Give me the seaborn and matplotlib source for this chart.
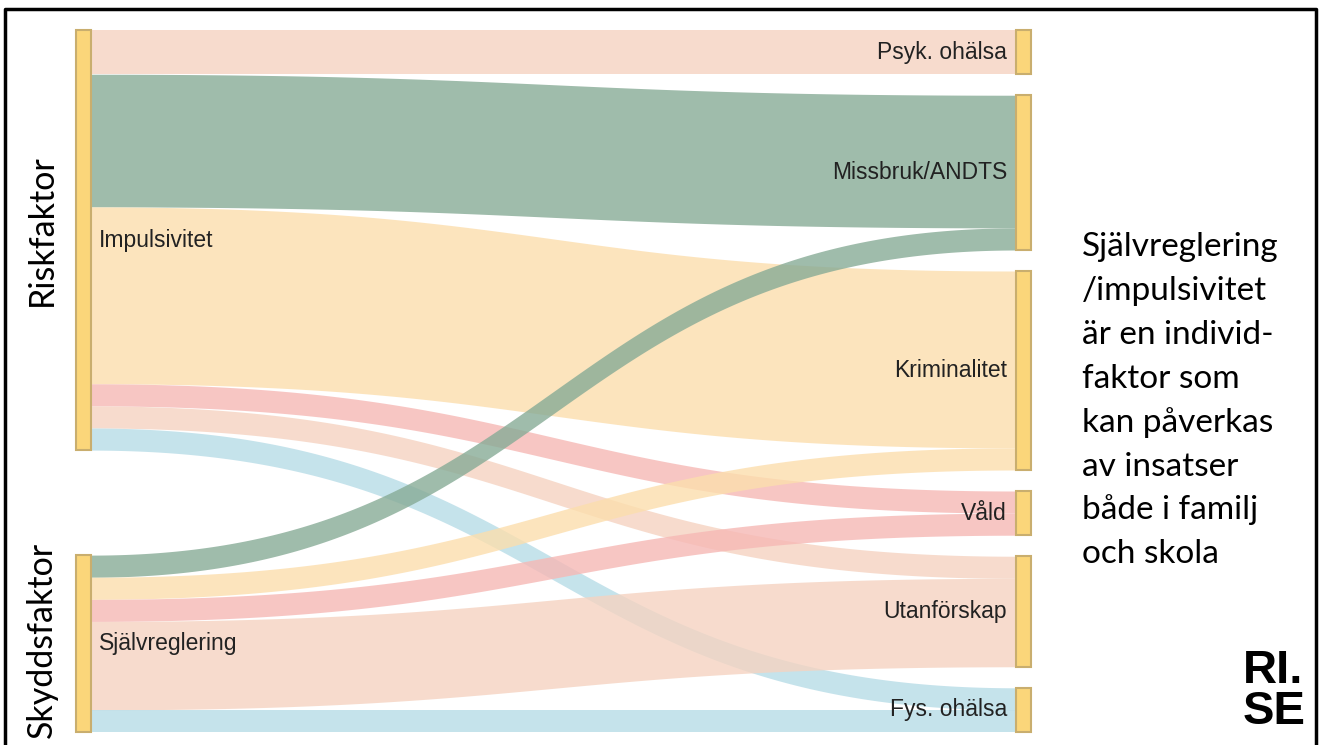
import numpy as np
import matplotlib
matplotlib.use("Agg")
import matplotlib.pyplot as plt
import seaborn as sns

# data
sources = ["Impulsivitet"] * 6 + ["Självreglering"] * 5
targets = ["Psyk. ohälsa", "Missbruk/ANDTS", "Kriminalitet", "Våld", "Utanförskap", "Fys. ohälsa",
           "Missbruk/ANDTS", "Kriminalitet", "Våld", "Utanförskap", "Fys. ohälsa"]
values = [2, 6, 8, 1, 1, 1,
          1, 1, 1, 4, 1]
left_nodes = ["Impulsivitet", "Självreglering"]
right_nodes = ["Psyk. ohälsa", "Missbruk/ANDTS", "Kriminalitet", "Våld", "Utanförskap", "Fys. ohälsa"]
link_colors = {"Psyk. ohälsa": "#F5D3C1", "Missbruk/ANDTS": "#87AB96", "Kriminalitet": "#FCDEAD",
               "Våld": "#F6B8B5", "Utanförskap": "#F5D3C1", "Fys. ohälsa": "#B7DCE7"}
side_labels = ["Riskfaktor", "Skyddsfaktor"]
note_lines = ["Självreglering", "/impulsivitet", "är en individ-", "faktor som",
              "kan påverkas", "av insatser", "både i familj", "och skola"]

sns.set_theme(style="white")
plt.rcParams["font.family"] = ["Liberation Sans", "DejaVu Sans"]

W, H = 1335, 745
fig = plt.figure(figsize=(W / 100, H / 100), dpi=100)
ax = fig.add_axes([0, 0, 1, 1])
ax.set_xlim(0, W)
ax.set_ylim(H, 0)
ax.axis("off")

# layout (pixel units)
top, bottom = 30, 732
min_pad = 21
x_left, x_right, node_w = 76, 1016, 15

def totals(nodes, key):
    return {n: sum(v for k, v in zip(key, values) if k == n) for n in nodes}

tot_l = totals(left_nodes, sources)
tot_r = totals(right_nodes, targets)
ncol = max(len(left_nodes), len(right_nodes))
scale = (bottom - top - (ncol - 1) * min_pad) / sum(values)

def place(nodes, tot):
    gap = (bottom - top - sum(tot.values()) * scale) / max(len(nodes) - 1, 1)
    pos, y = {}, top
    for n in nodes:
        h = tot[n] * scale
        pos[n] = [y, y + h]
        y += h + gap
    return pos

pos_l = place(left_nodes, tot_l)
pos_r = place(right_nodes, tot_r)
cur_l = {n: pos_l[n][0] for n in left_nodes}
cur_r = {n: pos_r[n][0] for n in right_nodes}

t = np.linspace(0, 1, 200)
def bez(a, b):
    return a * (1 - t) ** 3 + 3 * a * (1 - t) ** 2 * t + 3 * b * (1 - t) * t ** 2 + b * t ** 3

x0, x1 = x_left + node_w, x_right
xm = (x0 + x1) / 2
xs = x0 * (1 - t) ** 3 + 3 * xm * (1 - t) ** 2 * t + 3 * xm * (1 - t) * t ** 2 + x1 * t ** 3

for s, tg, v in zip(sources, targets, values):
    h = v * scale
    ya0, ya1 = cur_l[s], cur_r[tg]
    cur_l[s] += h
    cur_r[tg] += h
    ax.fill_between(xs, bez(ya0, ya1), bez(ya0 + h, ya1 + h), color=link_colors[tg],
                    alpha=0.8, linewidth=0)

for n in left_nodes:
    y0, y1 = pos_l[n]
    ax.add_patch(plt.Rectangle((x_left, y0), node_w, y1 - y0, facecolor="#FBD67A",
                               edgecolor="#C9AE6E", linewidth=1.5, zorder=3))
    ax.text(x_left + node_w + 8, (y0 + y1) / 2, n, ha="left", va="center",
            fontsize=16.5, color="#222222", zorder=4)
for n in right_nodes:
    y0, y1 = pos_r[n]
    ax.add_patch(plt.Rectangle((x_right, y0), node_w, y1 - y0, facecolor="#FBD67A",
                               edgecolor="#C9AE6E", linewidth=1.5, zorder=3))
    ax.text(x_right - 9, (y0 + y1) / 2, n, ha="right", va="center",
            fontsize=16.5, color="#222222", zorder=4)

# side titles
for lab, yc in zip(side_labels, [230, 640]):
    ax.text(52, yc, lab, rotation=90, ha="center", va="baseline", rotation_mode="anchor",
            fontsize=24.5, family=["Lato", "DejaVu Sans"], color="black")

# note on the right
for i, line in enumerate(note_lines):
    ax.text(1082, 256 + i * 43.9, line, ha="left", va="baseline", fontsize=24,
            family=["Lato", "DejaVu Sans"], color="black")

# logo
ax.text(1243, 734, "RI.\nSE", ha="left", va="bottom", fontsize=34, fontweight="bold",
        linespacing=0.92, family=["Liberation Sans", "DejaVu Sans"], color="black")

# frame
ax.plot([5, 5, 1316, 1316], [760, 9, 9, 760], color="black", linewidth=2.5)

fig.savefig("out.png", dpi=100)
